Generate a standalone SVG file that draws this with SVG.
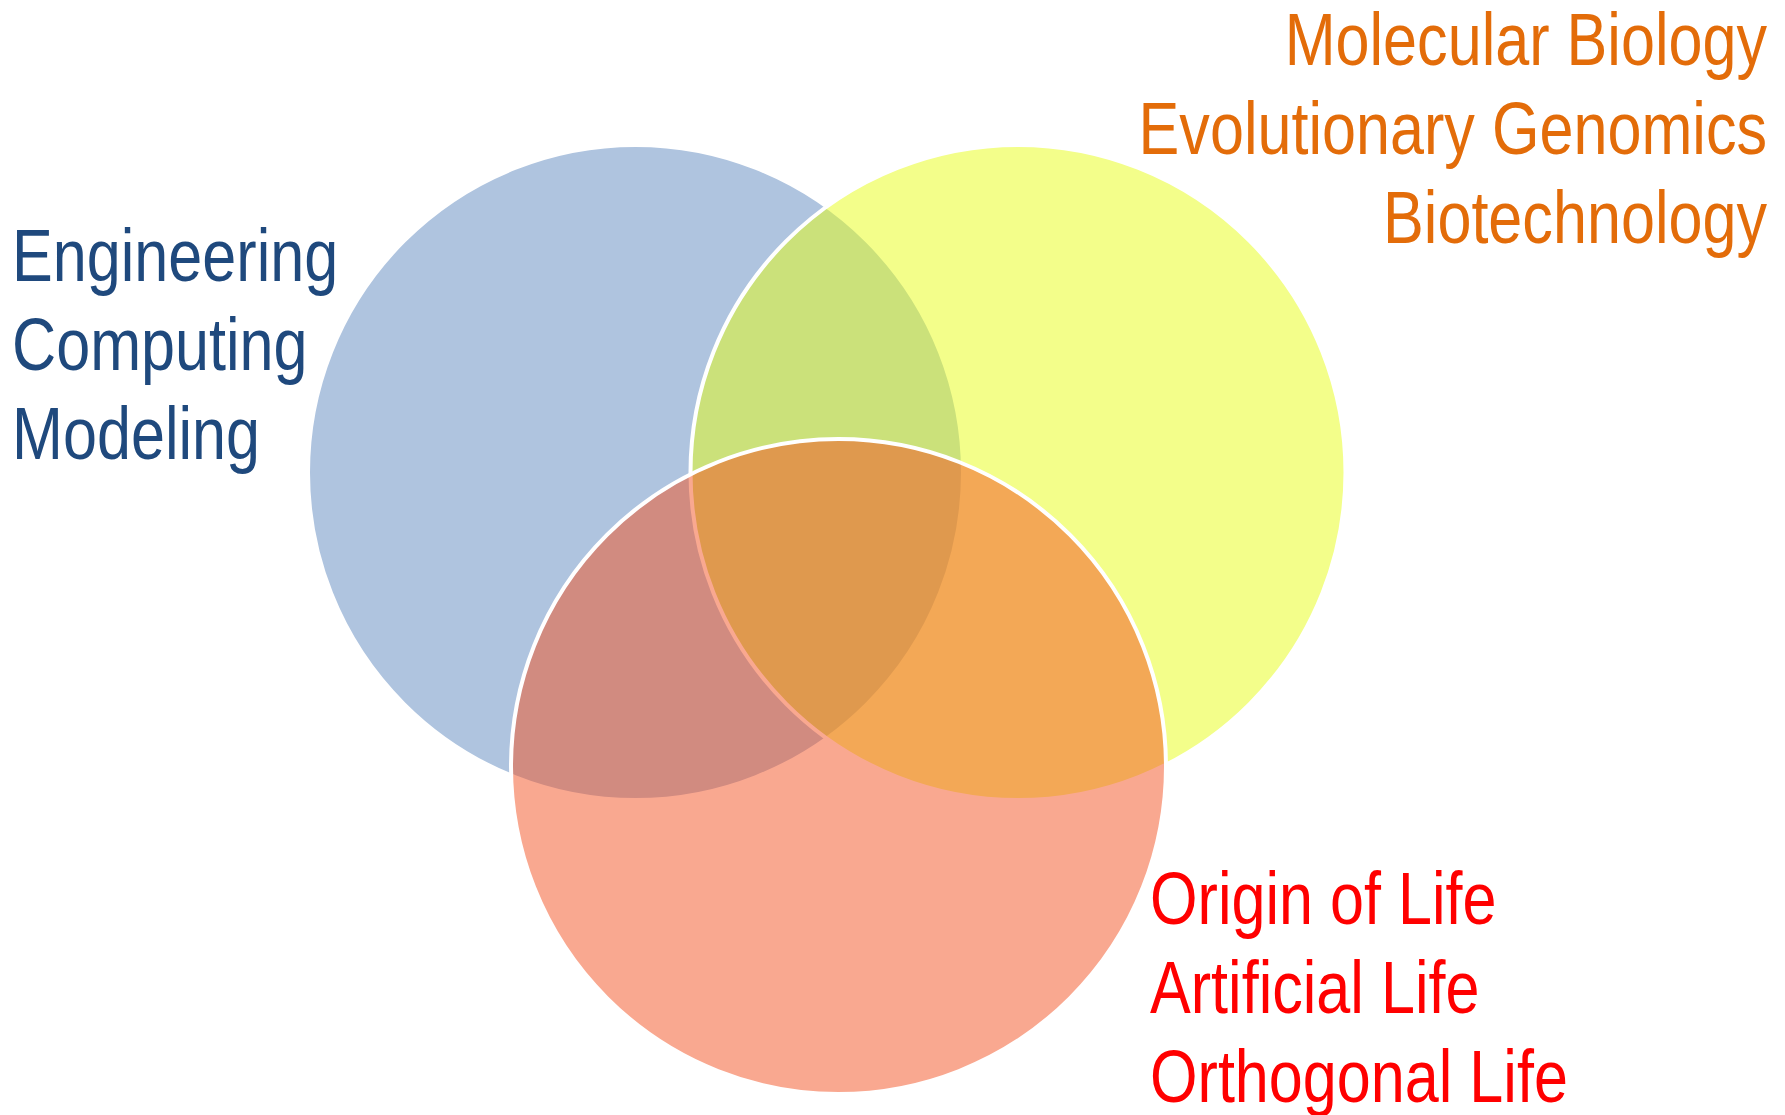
<svg xmlns="http://www.w3.org/2000/svg" width="1785" height="1115" viewBox="0 0 1785 1115">
<style>
.c{stroke:#FFFFFF;stroke-width:4;fill-opacity:0.5}
.t{font-family:"Liberation Sans",Arial,sans-serif;font-size:74px}
.tb{fill:#1F497D}
.to{fill:#E36C09}
.tr{fill:#FF0000}
</style>
<rect width="1785" height="1115" fill="#FFFFFF"/>
<g id="circle-blue"><circle class="c" cx="635.5" cy="472.5" r="327.5" fill="#5F89BF"/></g>
<g id="circle-yellow"><circle class="c" cx="1018" cy="472.5" r="327.5" fill="#E7FD15"/></g>
<g id="circle-red"><circle class="c" cx="838.5" cy="766.5" r="327.5" fill="#F35121"/></g>
<g id="label-blue" class="t tb" transform="translate(12,0) scale(0.826,1)">
<text x="0" y="281">Engineering</text>
<text x="0" y="370">Computing</text>
<text x="0" y="459">Modeling</text>
</g>
<g id="label-orange" class="t to" transform="translate(1767,0) scale(0.826,1)" text-anchor="end">
<text x="0" y="65">Molecular Biology</text>
<text x="0" y="154">Evolutionary Genomics</text>
<text x="0" y="243">Biotechnology</text>
</g>
<g id="label-red" class="t tr" transform="translate(1150,0) scale(0.826,1)">
<text x="0" y="924">Origin of Life</text>
<text x="0" y="1013">Artificial Life</text>
<text x="0" y="1102">Orthogonal Life</text>
</g>
</svg>
